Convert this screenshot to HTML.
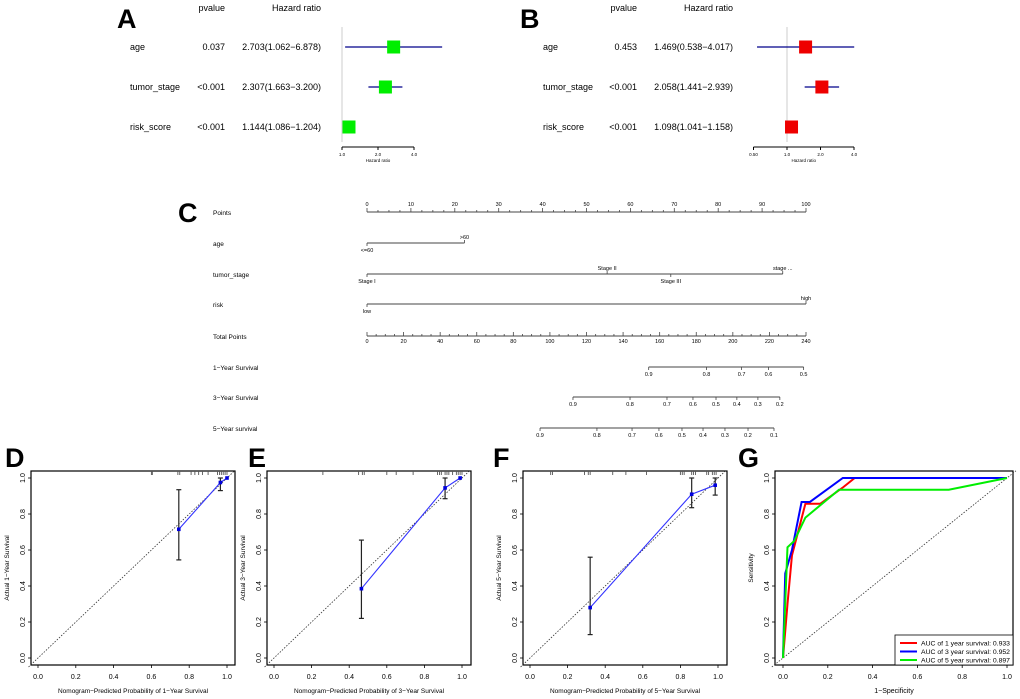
<!DOCTYPE html>
<html><head><meta charset="utf-8"><style>
html,body{margin:0;padding:0;background:#fff}
svg{display:block;font-family:"Liberation Sans",Arial,sans-serif}
</style></head><body>
<svg id="fig" width="1020" height="699" viewBox="0 0 1020 699" xmlns="http://www.w3.org/2000/svg"></svg>
<script>
// ---------- Forest plot data ----------
const A_vars = ['age','tumor_stage','risk_score'];
const A_p = ['0.037','<0.001','<0.001'];
const A_hr = [2.703, 2.307, 1.144];
const A_lo = [1.062, 1.663, 1.086];
const A_hi = [6.878, 3.200, 1.204];
const A_ticks = [1.0, 2.0, 4.0];
const A_tickLabels = ['1.0','2.0','4.0'];
const B_vars = ['age','tumor_stage','risk_score'];
const B_p = ['0.453','<0.001','<0.001'];
const B_hr = [1.469, 2.058, 1.098];
const B_lo = [0.538, 1.441, 1.041];
const B_hi = [4.017, 2.939, 1.158];
const B_ticks = [0.5, 1.0, 2.0, 4.0];
const B_tickLabels = ['0.50','1.0','2.0','4.0'];

// ---------- Nomogram data (in points / total points) ----------
const pointsTicks = [0,10,20,30,40,50,60,70,80,90,100];
const ageLevels = ['<=60','>60'];
const agePoints = [0, 22.2];
const stageLevels = ['Stage I','Stage II','Stage III','stage ...'];
const stagePoints = [0, 54.7, 69.2, 94.7];
const riskLevels = ['low','high'];
const riskPoints = [0, 100];
const totalTicks = [0,20,40,60,80,100,120,140,160,180,200,220,240];
const surv1Labels = ['0.9','0.8','0.7','0.6','0.5'];
const surv1Total = [154, 185.6, 204.8, 219.5, 238.7];
const surv3Labels = ['0.9','0.8','0.7','0.6','0.5','0.4','0.3','0.2'];
const surv3Total = [112.6, 143.8, 164, 178.2, 190.8, 202.2, 213.7, 225.7];
const surv5Labels = ['0.9','0.8','0.7','0.6','0.5','0.4','0.3','0.2','0.1'];
const surv5Total = [94.6, 125.7, 144.9, 159.6, 172.2, 183.7, 195.7, 208.3, 222.5];

// ---------- Calibration data ----------
const D_pred = [0.745, 0.965, 1.0];
const D_obs = [0.715, 0.975, 1.0];
const D_lo = [0.545, 0.93, 1.0];
const D_hi = [0.935, 1.0, 1.0];
const D_rug = [0.60,0.605,0.74,0.75,0.81,0.83,0.85,0.87,0.9,0.95,0.96,0.97,0.98,0.99,1.0];
const E_pred = [0.465, 0.91, 0.99];
const E_obs = [0.385, 0.945, 1.0];
const E_lo = [0.22, 0.885, 1.0];
const E_hi = [0.655, 1.0, 1.0];
const E_rug = [0.26,0.45,0.47,0.48,0.6,0.65,0.74,0.87,0.88,0.89,0.91,0.92,0.93,0.95,0.97,0.98,0.99,1.0];
const F_pred = [0.32, 0.86, 0.985];
const F_obs = [0.28, 0.91, 0.96];
const F_lo = [0.13, 0.835, 0.905];
const F_hi = [0.56, 1.0, 1.0];
const F_rug = [0.11,0.12,0.29,0.31,0.32,0.44,0.51,0.62,0.8,0.81,0.82,0.86,0.87,0.88,0.94,0.95,0.97,0.98,0.99];
const calTicks = [0,0.2,0.4,0.6,0.8,1.0];
const calTickLabels = ['0.0','0.2','0.4','0.6','0.8','1.0'];

// ---------- ROC data ----------
const roc1_fpr = [0,0.02,0.04,0.1,0.167,0.27,0.32,1];
const roc1_tpr = [0,0.3,0.57,0.857,0.857,0.95,1,1];
const roc3_fpr = [0,0.01,0.04,0.083,0.12,0.267,1];
const roc3_tpr = [0,0.47,0.6,0.867,0.867,1,1];
const roc5_fpr = [0,0.02,0.05,0.1,0.25,0.74,1];
const roc5_tpr = [0,0.615,0.65,0.78,0.935,0.935,1];
const rocLegend = ['AUC of 1 year survival:  0.933','AUC of 3 year survival:  0.952','AUC of 5 year survival:  0.897'];

const NS='http://www.w3.org/2000/svg';
const svg=document.getElementById('fig');
function mk(tag, attrs, name, parent){
  const el=document.createElementNS(NS,tag);
  for(const k in attrs) el.setAttribute(k,attrs[k]);
  
  
  (parent||svg).appendChild(el);
  return el;
}
function line(x1,y1,x2,y2,stroke,w,name,extra){
  const a={x1,y1,x2,y2,stroke,'stroke-width':w};
  if(extra) Object.assign(a,extra);
  return mk('line',a,name);
}
function text(x,y,s,size,name,extra){
  const a={x,y,'font-size':size,fill:'#000'};
  if(extra) Object.assign(a,extra);
  const t=mk('text',a,name);
  t.textContent=s;
  return t;
}

// ---------- Forest plot ----------
function forest(cfg){
  text(cfg.letterX,28,cfg.letter,27,'panel-letter-'+cfg.letter.toLowerCase(),{'font-weight':'bold'});
  text(cfg.pX,11,'pvalue',9,'pvalue-header',{'text-anchor':'end'});
  text(cfg.hrX,11,'Hazard ratio',9,'hazard-ratio-header',{'text-anchor':'end'});
  const xs=v=>cfg.x1+cfg.k*Math.log2(v);
  line(xs(1),27,xs(1),142,'#cccccc',1,'reference-line');
  cfg.vars.forEach((v,i)=>{
    const y=cfg.rowY[i];
    text(cfg.labX,y+3,v,9,'row-label-'+v);
    text(cfg.pX,y+3,cfg.p[i],9,'pvalue-'+v,{'text-anchor':'end'});
    text(cfg.hrX,y+3,cfg.hr[i].toFixed(3)+'('+cfg.lo[i].toFixed(3)+'\u2212'+cfg.hi[i].toFixed(3)+')',9,'hr-text-'+v,{'text-anchor':'end'});
    line(xs(cfg.lo[i]),y,xs(cfg.hi[i]),y,'#00008b',1.2,'ci-line-'+v);
    mk('rect',{x:xs(cfg.hr[i])-6.5,y:y-6.5,width:13,height:13,fill:cfg.color},'hr-box-'+v);
  });
  const ay=147;
  line(xs(cfg.ticks[0]),ay,xs(cfg.ticks[cfg.ticks.length-1]),ay,'#000',1,'hr-axis');
  cfg.ticks.forEach((t,i)=>{
    line(xs(t),ay,xs(t),ay+3,'#000',1,'hr-tick');
    text(xs(t),ay+9,cfg.tickLabels[i],4.5,'hr-tick-label',{'text-anchor':'middle'});
  });
  text((xs(cfg.ticks[0])+xs(cfg.ticks[cfg.ticks.length-1]))/2,ay+15,'Hazard ratio',4.5,'hr-axis-title',{'text-anchor':'middle'});
}
forest({letter:'A',letterX:117,labX:130,pX:225,hrX:321,x1:342,k:36,vars:A_vars,p:A_p,hr:A_hr,lo:A_lo,hi:A_hi,ticks:A_ticks,tickLabels:A_tickLabels,color:'#00ee00',rowY:[47,87,127]});
forest({letter:'B',letterX:520,labX:543,pX:637,hrX:733,x1:787,k:33.5,vars:B_vars,p:B_p,hr:B_hr,lo:B_lo,hi:B_hi,ticks:B_ticks,tickLabels:B_tickLabels,color:'#ee0000',rowY:[47,87,127]});

// ---------- Nomogram ----------
text(178,222,'C',27,'panel-letter-c',{'font-weight':'bold'});
const px=p=>367+p*4.39;
const tx=t=>367+t*(439/240);
const rowY=[212,243,274,304,336,367,397,428];
const rowNames=['Points','age','tumor_stage','risk','Total Points','1\u2212Year Survival','3\u2212Year Survival','5\u2212Year survival'];
rowNames.forEach((n,i)=>text(213,rowY[i]+3,n,6.5,'nomogram-row-label'));
const G='#444';
line(px(0),rowY[0],px(100),rowY[0],G,1,'points-axis');
for(let p=0;p<=100;p+=2.5){line(px(p),rowY[0],px(p),rowY[0]-(p%10===0?4:2),G,0.8,'points-tick');}
pointsTicks.forEach(p=>text(px(p),rowY[0]-6,String(p),5.5,'points-tick-label',{'text-anchor':'middle'}));
function cat(levels,pts,y,name,above){
  line(px(pts[0]),y,px(pts[pts.length-1]),y,G,1,name+'-axis');
  levels.forEach((l,i)=>{
    const up=above[i];
    line(px(pts[i]),y,px(pts[i]),y+(up?-3:3),G,0.8,name+'-tick');
    text(px(pts[i]),up?y-4:y+9,l,5.5,name+'-level-label',{'text-anchor':'middle'});
  });
}
cat(ageLevels,agePoints,rowY[1],'age',[false,true]);
cat(stageLevels,stagePoints,rowY[2],'tumor-stage',[false,true,false,true]);
cat(riskLevels,riskPoints,rowY[3],'risk',[false,true]);
line(tx(0),rowY[4],tx(240),rowY[4],G,1,'total-points-axis');
for(let t=0;t<=240;t+=5){line(tx(t),rowY[4],tx(t),rowY[4]-(t%20===0?4:2),G,0.8,'total-points-tick');}
totalTicks.forEach(t=>text(tx(t),rowY[4]+7,String(t),5.5,'total-points-tick-label',{'text-anchor':'middle'}));
function surv(labels,tot,y,name){
  line(tx(tot[0]),y,tx(tot[tot.length-1]),y,G,1,name+'-axis');
  tot.forEach((t,i)=>{
    line(tx(t),y,tx(t),y+3,G,0.8,name+'-tick');
    text(tx(t),y+9,labels[i],5.5,name+'-tick-label',{'text-anchor':'middle'});
  });
}
surv(surv1Labels,surv1Total,rowY[5],'survival-1y');
surv(surv3Labels,surv3Total,rowY[6],'survival-3y');
surv(surv5Labels,surv5Total,rowY[7],'survival-5y');

// ---------- Calibration / ROC frames ----------
function frame(cfg){
  const xs=v=>cfg.x0+(cfg.x1-cfg.x0)*v;
  const ys=v=>658-180*v;
  mk('rect',{x:cfg.bl,y:471,width:cfg.br-cfg.bl,height:194,fill:'none',stroke:'#000','stroke-width':1.2},cfg.id+'-plot-frame');
  text(cfg.lx,467,cfg.letter,27,'panel-letter-'+cfg.letter.toLowerCase(),{'font-weight':'bold'});
  calTicks.forEach((t,i)=>{
    line(xs(t),665,xs(t),668,'#000',0.8,cfg.id+'-x-tick');
    text(xs(t),679,calTickLabels[i],7,cfg.id+'-x-tick-label',{'text-anchor':'middle'});
    line(cfg.bl,ys(t),cfg.bl-3,ys(t),'#000',0.8,cfg.id+'-y-tick');
    text(cfg.bl-6,ys(t),calTickLabels[i],7,cfg.id+'-y-tick-label',{'text-anchor':'middle',transform:`rotate(-90 ${cfg.bl-6} ${ys(t)})`});
  });
  text((cfg.bl+cfg.br)/2,cfg.xtY,cfg.xt,cfg.xtSize,cfg.id+'-x-axis-title',{'text-anchor':'middle'});
  text(cfg.bl-22,568,cfg.yt,6.5,cfg.id+'-y-axis-title',{'text-anchor':'middle',transform:`rotate(-90 ${cfg.bl-22} 568)`});
  line(xs(-0.05),ys(-0.05),xs(1.04),ys(1.04),'#333',0.8,cfg.id+'-diagonal',{'stroke-dasharray':'1.5,1.5'});
  return {xs,ys};
}
function calib(cfg,pred,obs,lo,hi,rug){
  const {xs,ys}=frame(cfg);
  rug.forEach(r=>line(xs(r),471,xs(r),475,'#555',0.9,cfg.id+'-rug-tick'));
  const pts=pred.map((p,i)=>xs(p)+','+ys(obs[i])).join(' ');
  mk('polyline',{points:pts,fill:'none',stroke:'#3333ff','stroke-width':1.1},cfg.id+'-calibration-line');
  pred.forEach((p,i)=>{
    if(hi[i]>lo[i]){
      line(xs(p),ys(lo[i]),xs(p),ys(hi[i]),'#222',1.2,cfg.id+'-error-bar');
      line(xs(p)-2.5,ys(lo[i]),xs(p)+2.5,ys(lo[i]),'#222',1.2,cfg.id+'-error-cap');
      line(xs(p)-2.5,ys(hi[i]),xs(p)+2.5,ys(hi[i]),'#222',1.2,cfg.id+'-error-cap');
    }
    mk('rect',{x:xs(p)-1.8,y:ys(obs[i])-1.8,width:3.6,height:3.6,fill:'#0000dd'},cfg.id+'-point');
  });
}
calib({id:'d',letter:'D',lx:5,bl:31,br:235,x0:38,x1:227,xt:'Nomogram\u2212Predicted Probability of 1\u2212Year Survival',xtY:693,xtSize:6.5,yt:'Actual 1\u2212Year Survival'},D_pred,D_obs,D_lo,D_hi,D_rug);
calib({id:'e',letter:'E',lx:248,bl:267,br:471,x0:274,x1:462,xt:'Nomogram\u2212Predicted Probability of 3\u2212Year Survival',xtY:693,xtSize:6.5,yt:'Actual 3\u2212Year Survival'},E_pred,E_obs,E_lo,E_hi,E_rug);
calib({id:'f',letter:'F',lx:493,bl:523,br:727,x0:530,x1:718,xt:'Nomogram\u2212Predicted Probability of 5\u2212Year Survival',xtY:693,xtSize:6.5,yt:'Actual 5\u2212Year Survival'},F_pred,F_obs,F_lo,F_hi,F_rug);

(function(){
  const cfg={id:'g',letter:'G',lx:738,bl:775,br:1013,x0:783,x1:1007,xt:'1\u2212Specificity',xtY:693,xtSize:7,yt:'Sensitivity'};
  const {xs,ys}=frame(cfg);
  const series=[[roc1_fpr,roc1_tpr,'#ff0000','roc-1-year'],[roc3_fpr,roc3_tpr,'#0000ff','roc-3-year'],[roc5_fpr,roc5_tpr,'#00ee00','roc-5-year']];
  series.forEach(s=>{
    const pts=s[0].map((f,i)=>xs(f)+','+ys(s[1][i])).join(' ');
    mk('polyline',{points:pts,fill:'none',stroke:s[2],'stroke-width':2},s[3]+'-curve');
  });
  mk('rect',{x:895,y:635,width:118,height:30,fill:'#fff',stroke:'#000','stroke-width':0.8},'roc-legend');
  series.forEach((s,i)=>{
    const y=643+i*8.5;
    line(900,y,917,y,s[2],2,'legend-swatch-'+s[3]);
    text(921,y+2.5,rocLegend[i],6.6,'legend-entry-'+s[3],{'textLength':89,'lengthAdjust':'spacingAndGlyphs'});
  });
})();
</script>
</body></html>
